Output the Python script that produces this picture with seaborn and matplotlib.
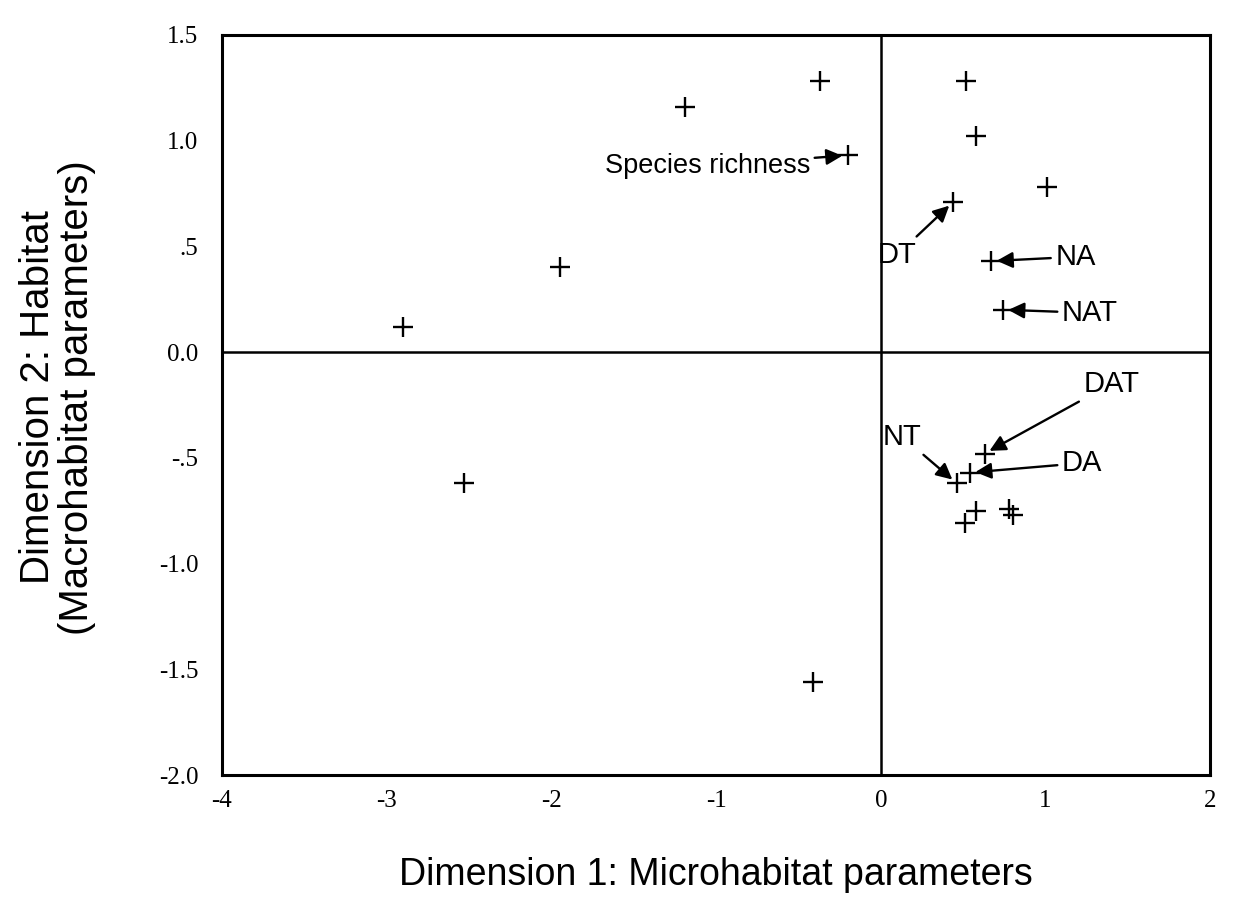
import pandas as pd
import seaborn as sns
import matplotlib.pyplot as plt

# Data
dim1 = [-2.90, -1.95, -1.19, -0.37, -0.20, 0.52, 0.58, 1.01, 0.44, 0.67, 0.74,
        -2.53, -0.41, 0.63, 0.46, 0.54, 0.58, 0.51, 0.78, 0.80]
dim2 = [0.12, 0.40, 1.16, 1.28, 0.93, 1.28, 1.02, 0.78, 0.71, 0.43, 0.20,
        -0.62, -1.56, -0.48, -0.62, -0.57, -0.75, -0.81, -0.74, -0.77]

# labelled points: label, point position, text position, alignment
labels = ['Species richness', 'DT', 'NA', 'NAT', 'DAT', 'NT', 'DA']
label_pts = [(-0.20, 0.93), (0.44, 0.71), (0.67, 0.43), (0.74, 0.20),
             (0.63, -0.48), (0.46, -0.62), (0.54, -0.57)]
label_txt = [(-0.43, 0.88), (0.10, 0.46), (1.06, 0.45), (1.10, 0.185),
             (1.40, -0.15), (0.13, -0.40), (1.10, -0.525)]
label_ha = ['right', 'center', 'left', 'left', 'center', 'center', 'left']

xticks = [-4, -3, -2, -1, 0, 1, 2]
yticks = [1.5, 1.0, 0.5, 0.0, -0.5, -1.0, -1.5, -2.0]
ytick_labels = ['1.5', '1.0', '.5', '0.0', '-.5', '-1.0', '-1.5', '-2.0']

df = pd.DataFrame({'dim1': dim1, 'dim2': dim2})

sns.set_style('white')
plt.rcParams['font.family'] = ['Liberation Sans', 'DejaVu Sans']
plt.rcParams['text.color'] = 'black'
plt.rcParams['axes.labelcolor'] = 'black'
plt.rcParams['xtick.color'] = 'black'
plt.rcParams['ytick.color'] = 'black'

fig = plt.figure(figsize=(12.4, 9.14), dpi=100)
ax = fig.add_axes([0.179, 0.152, 0.797, 0.81])

# quadrant lines
ax.axhline(0, color='black', lw=1.8, zorder=1)
ax.axvline(0, color='black', lw=1.8, zorder=1)

sns.scatterplot(data=df, x='dim1', y='dim2', marker='+', color='black',
                s=220, linewidth=1.7, ax=ax, zorder=3)

for lab, (px, py), (tx, ty), ha in zip(labels, label_pts, label_txt, label_ha):
    ax.annotate(lab, xy=(px, py), xytext=(tx, ty), ha=ha, va='center',
                fontsize=21 if lab != 'Species richness' else 19.5,
                arrowprops=dict(arrowstyle='-|>', color='black', lw=1.7,
                                mutation_scale=24, shrinkA=1, shrinkB=4))

ax.set_xlim(-4, 2)
ax.set_ylim(-2.0, 1.5)
ax.set_xticks(xticks)
ax.set_xticklabels([str(t) for t in xticks], family='Liberation Serif', fontsize=18)
ax.set_yticks(yticks)
ax.set_yticklabels(ytick_labels, family='Liberation Serif', fontsize=18)
ax.tick_params(direction='inout', length=6, width=3)
ax.tick_params(axis='y', pad=14)
ax.tick_params(axis='x', pad=8)

for sp in ax.spines.values():
    sp.set_linewidth(2.2)
    sp.set_color('black')

ax.set_xlabel('Dimension 1: Microhabitat parameters', fontsize=27)
ax.xaxis.label.set_verticalalignment('center')
ax.xaxis.set_label_coords(0.5, -0.135)
ax.set_ylabel('Dimension 2: Habitat\n(Macrohabitat parameters)', fontsize=29,
              linespacing=1.05)
ax.yaxis.set_label_coords(-0.127, 0.51)

fig.savefig('out.png', dpi=100)
